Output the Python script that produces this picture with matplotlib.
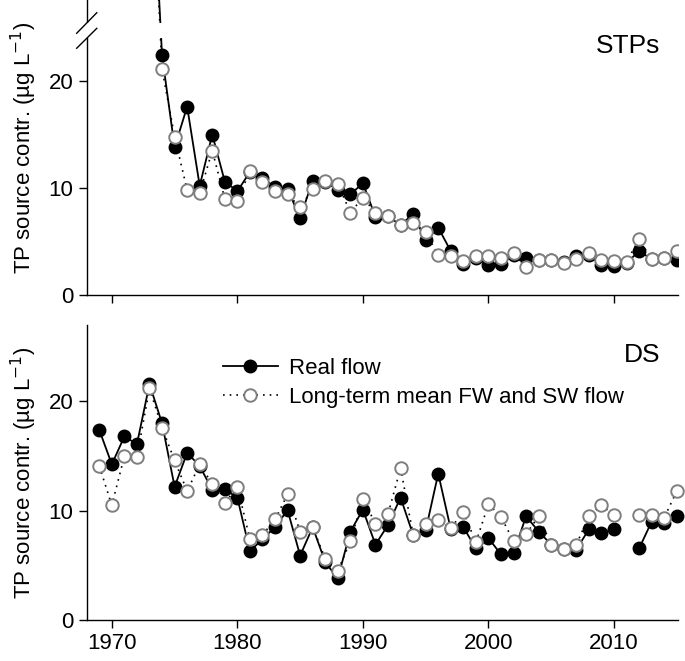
import numpy as np
import matplotlib
matplotlib.use("Agg")
import matplotlib.pyplot as plt
import matplotlib.transforms as mtransforms
from matplotlib.patches import Rectangle

plt.rcParams['font.family'] = ['Liberation Sans', 'DejaVu Sans']

# STPs panel, 1973-2015 (1973 sits above the axis break)
stp_years = np.arange(1973, 2016)
stp_real = [45.0, 22.4, 13.8, 17.6, 10.2, 15.0, 10.6, 9.7, 11.5, 10.9,
            10.1, 9.9, 7.2, 10.7, 10.6, 9.8, 9.4, 10.45, 7.3, 7.4,
            6.5, 7.6, 5.1, 6.3, 4.1, 2.9, 3.5, 2.8, 2.9, 3.7,
            3.45, 3.25, 3.25, 3.1, 3.66, 3.7, 2.8, 2.7, 3.0, 4.1,
            3.35, 3.5, 3.25]
stp_mean = [45.0, 21.1, 14.8, 9.8, 9.5, 13.5, 9.0, 8.8, 11.6, 10.6,
            9.7, 9.4, 8.2, 9.9, 10.7, 10.4, 7.7, 9.1, 7.7, 7.4,
            6.5, 6.7, 5.85, 3.7, 3.6, 3.2, 3.6, 3.66, 3.45, 3.9,
            2.6, 3.25, 3.25, 3.0, 3.35, 3.9, 3.25, 3.2, 3.1, 5.2,
            3.35, 3.5, 4.07]

# DS panel, 1969-2015 (no value for 2011)
ds_years = np.arange(1969, 2016)
ds_real = [17.4, 14.25, 16.8, 16.1, 21.6, 18.0, 12.2, 15.3, 14.1, 11.9,
           11.96, 11.2, 6.3, 7.4, 8.5, 10.06, 5.9, 8.5, 5.3, 3.8,
           8.1, 10.1, 6.9, 8.7, 11.2, 7.8, 8.2, 13.4, 8.3, 8.5,
           6.55, 7.5, 6.0, 6.15, 9.5, 8.1, 6.9, 6.5, 6.45, 8.3,
           8.0, 8.3, np.nan, 6.55, 9.0, 8.84, 9.5]
ds_mean = [14.1, 10.5, 15.0, 14.95, 21.2, 17.6, 14.6, 11.8, 14.25, 12.45,
           10.7, 12.2, 7.4, 7.8, 9.2, 11.5, 8.1, 8.5, 5.6, 4.5,
           7.2, 11.1, 8.8, 9.7, 13.9, 7.8, 8.8, 9.15, 8.4, 9.9,
           7.1, 10.6, 9.45, 7.2, 7.86, 9.5, 6.9, 6.5, 6.9, 9.5,
           10.5, 9.6, np.nan, 9.6, 9.6, 9.36, 11.8]

ylabel = "TP source contr. (µg L$^{-1}$)"
fs = 16

fig = plt.figure(figsize=(6.85, 6.61), dpi=100)
ax1 = fig.add_axes([0.1266, 0.5537, 0.8632, 0.4463])
ax2 = fig.add_axes([0.1266, 0.0620, 0.8632, 0.4463])


def draw(ax, years, real, mean, ylim, name, name_y):
    ax.plot(years, real, color='black', lw=1.3, marker='o', ms=9,
            mfc='black', mec='black', label='Real flow', zorder=3, clip_on=False)
    ax.plot(years, mean, color='black', lw=1.2, ls=(0, (1, 3)), marker='o', ms=9,
            mfc='white', mec='#7f7f7f', mew=1.4,
            label='Long-term mean FW and SW flow', zorder=4, clip_on=False)
    ax.set_xlim(1968, 2015.1)
    ax.set_ylim(*ylim)
    ax.set_xticks([1970, 1980, 1990, 2000, 2010])
    ax.set_yticks([0, 10, 20])
    for s in ['top', 'right']:
        ax.spines[s].set_visible(False)
    for s in ['left', 'bottom']:
        ax.spines[s].set_linewidth(1.0)
    ax.tick_params(direction='out', length=6, width=1, labelsize=fs)
    ax.set_ylabel(ylabel, fontsize=fs)
    ax.yaxis.set_label_coords(-0.08, 0.5)
    ax.text(0.97, name_y, name, transform=ax.transAxes, ha='right',
            va='center', fontsize=19)


draw(ax1, stp_years, stp_real, stp_mean, (0, 27.57), 'STPs', 0.845)
draw(ax2, ds_years, ds_real, ds_mean, (0, 27.0), 'DS', 0.898)

# the real series reaches far above the axis; clip it to the visible panel
for ln in ax1.lines:
    ln.set_clip_on(True)

ax1.tick_params(labelbottom=False)

# axis break on the STPs panel (only across the spine and the steep segment)
tr = mtransforms.blended_transform_factory(ax1.transAxes, ax1.transData)
ax1.add_patch(Rectangle((-0.03, 24.0), 0.25, 1.4, transform=tr,
                        facecolor='white', edgecolor='none',
                        zorder=10, clip_on=False))
ax1.plot([-0.017, 0.017], [24.46, 26.38], color='black', lw=1.0,
         transform=tr, clip_on=False, zorder=11)
ax1.plot([-0.017, 0.017], [23.06, 24.92], color='black', lw=1.0,
         transform=tr, clip_on=False, zorder=11)

ax2.legend(loc='upper left', bbox_to_anchor=(0.23, 0.888), frameon=False,
           fontsize=fs, handlelength=2.5, handletextpad=0.5,
           labelspacing=0.35, borderpad=0, borderaxespad=0)

fig.savefig('out.png', dpi=100)
